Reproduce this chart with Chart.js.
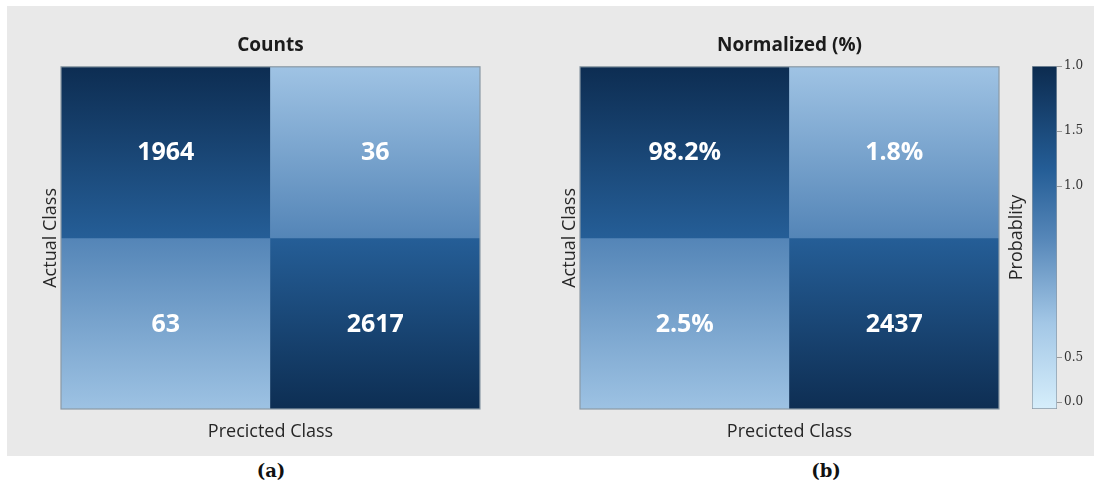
<!DOCTYPE html>
<html>
<head>
<meta charset="utf-8">
<script src="https://cdn.jsdelivr.net/npm/chart.js@4.4.0/dist/chart.umd.min.js"></script>
<style>
  body { margin: 0; background: #fff; width: 1094px; height: 489px; position: relative; overflow: hidden; }
  #panel { position: absolute; left: 7px; top: 6px; width: 1087px; height: 450px; background: #e9e9e9; }
  .box { position: absolute; top: 0; height: 456px; }
  .cap { position: absolute; top: 460px; font: bold 18px "DejaVu Serif"; color: #111; transform: translateX(-50%); }
</style>
</head>
<body>
<div id="panel"></div>
<div class="box" style="left:0;width:547px"><canvas id="counts" width="547" height="456"></canvas></div>
<div class="box" style="left:520px;width:500px"><canvas id="normalized" width="500" height="456"></canvas></div>
<div class="box" style="left:1000px;width:94px"><canvas id="colorbar" width="94" height="456"></canvas></div>
<div class="cap" style="left:271px">(a)</div>
<div class="cap" style="left:826px">(b)</div>

<script>
// class names along each axis
const predictedClasses = ['0', '1'];
const actualClasses = ['0', '1'];

// raw confusion counts, one row per actual class
const countValues = [[1964, 36], [63, 2617]];

// normalized panel: shares used for colour and the printed cell text
const normalizedShares = [[0.982, 0.018], [0.025, 0.975]];
const normalizedLabels = [['98.2%', '1.8%'], ['2.5%', '2437']];

// colour bar ticks
const colorbarTicks = [0.02, 0.15, 0.65, 0.81, 1.0];
const colorbarTickLabels = ['0.0', '0.5', '1.0', '1.5', '1.0'];

const countShares = countValues.map(row => {
    const sum = row.reduce((a, b) => a + b, 0);
    return row.map(v => v / sum);
});
const countLabels = countValues.map(row => row.map(String));

// light-to-dark blue ramp
const blueStops = [
    [0, [214, 238, 251]],
    [0.25, [163, 199, 230]],
    [0.5, [85, 134, 184]],
    [0.7, [36, 93, 150]],
    [1, [12, 43, 79]]
];

function blueAt(t) {
    t = Math.max(0, Math.min(1, t));
    for (let i = 1; i < blueStops.length; i++) {
        const [p1, c1] = blueStops[i];
        const [p0, c0] = blueStops[i - 1];
        if (t <= p1) {
            const f = (t - p0) / (p1 - p0);
            const c = c0.map((v, k) => Math.round(v + (c1[k] - v) * f));
            return `rgb(${c[0]},${c[1]},${c[2]})`;
        }
    }
    return 'rgb(12,43,79)';
}

// each cell shades toward the outer edge of the matrix
function cellFill(shares) {
    return (ctx) => {
        const chart = ctx.chart;
        if (!chart.chartArea || ctx.type !== 'data') return '#5586b8';
        const y = chart.scales.y;
        const r = ctx.datasetIndex;
        const t = shares[r][ctx.dataIndex];
        const top = y.getPixelForValue(r);
        const bottom = y.getPixelForValue(r + 1);
        const outerTop = r < shares.length / 2;
        const g = chart.ctx.createLinearGradient(0, outerTop ? top : bottom, 0, outerTop ? bottom : top);
        g.addColorStop(0, blueAt(0.25 + 0.75 * t));
        g.addColorStop(1, blueAt(0.5 + 0.2 * t));
        return g;
    };
}

// white numbers in the cells and a thin frame around the matrix
const cellText = {
    id: 'cellText',
    afterDatasetsDraw(chart, args, opts) {
        const ctx = chart.ctx;
        const area = chart.chartArea;
        ctx.save();
        ctx.font = 'bold 25px "Open Sans"';
        ctx.fillStyle = '#ffffff';
        ctx.textAlign = 'center';
        ctx.textBaseline = 'middle';
        chart.data.datasets.forEach((ds, r) => {
            chart.getDatasetMeta(r).data.forEach((bar, c) => {
                ctx.fillText(opts.labels[r][c], bar.x, (bar.y + bar.base) / 2 + 1);
            });
        });
        ctx.strokeStyle = '#8b99a5';
        ctx.lineWidth = 1.2;
        ctx.strokeRect(area.left, area.top, area.right - area.left, area.bottom - area.top);
        ctx.restore();
    }
};

const axisFont = { family: 'Open Sans', size: 18, lineHeight: 1 };

function matrixChart(id, title, shares, labels, padLeft, padRight) {
    return new Chart(document.getElementById(id), {
        type: 'bar',
        data: {
            labels: predictedClasses,
            datasets: actualClasses.map((cls, r) => ({
                label: cls,
                data: predictedClasses.map(() => [r, r + 1]),
                backgroundColor: cellFill(shares),
                borderWidth: 0,
                categoryPercentage: 1,
                barPercentage: 1,
                grouped: false
            }))
        },
        options: {
            responsive: false,
            animation: false,
            layout: { padding: { top: 34, left: padLeft, right: padRight, bottom: 10 } },
            plugins: {
                legend: { display: false },
                tooltip: { enabled: false },
                title: {
                    display: true,
                    text: title,
                    fullSize: false,
                    color: '#1b1b1b',
                    font: { family: 'Open Sans', size: 19, weight: 'bold', lineHeight: 1.2 },
                    padding: { top: 0, bottom: 10 }
                },
                cellText: { labels: labels }
            },
            scales: {
                x: {
                    grid: { display: false, drawTicks: false },
                    border: { display: false },
                    ticks: { display: false },
                    title: { display: true, text: 'Precicted Class', color: '#262626', font: axisFont, padding: { top: 14, bottom: 5 } }
                },
                y: {
                    min: 0,
                    max: actualClasses.length,
                    reverse: true,
                    grid: { display: false, drawTicks: false },
                    border: { display: false },
                    ticks: { display: false },
                    title: { display: true, text: 'Actual Class', color: '#262626', font: axisFont, padding: { top: 16, bottom: 1 } }
                }
            }
        },
        plugins: [cellText]
    });
}

matrixChart('counts', 'Counts', countShares, countLabels, 26, 67);
matrixChart('normalized', 'Normalized (%)', normalizedShares, normalizedLabels, 25, 21);

// colour bar on the right
new Chart(document.getElementById('colorbar'), {
    type: 'bar',
    data: {
        labels: ['Probablity'],
        datasets: [{
            data: [[0, 1]],
            backgroundColor: (ctx) => {
                const chart = ctx.chart;
                if (!chart.chartArea) return '#5586b8';
                const y = chart.scales.y;
                const g = chart.ctx.createLinearGradient(0, y.getPixelForValue(0), 0, y.getPixelForValue(1));
                blueStops.forEach(([p]) => g.addColorStop(p, blueAt(p)));
                return g;
            },
            borderColor: '#8b99a5',
            borderWidth: 1,
            borderSkipped: false,
            categoryPercentage: 1,
            barPercentage: 1
        }]
    },
    options: {
        responsive: false,
        animation: false,
        layout: { padding: { top: 66, left: 0, right: 5, bottom: 47 } },
        plugins: { legend: { display: false }, tooltip: { enabled: false } },
        scales: {
            x: { display: false },
            y: {
                position: 'right',
                min: 0,
                max: 1,
                afterBuildTicks: (scale) => {
                    scale.ticks = colorbarTicks.map(v => ({ value: v }));
                },
                afterFit: (scale) => {
                    scale.width = 32;
                },
                ticks: {
                    autoSkip: false,
                    padding: 2,
                    color: '#333',
                    font: { family: 'DejaVu Serif', size: 12 },
                    callback: (value, index) => colorbarTickLabels[index]
                },
                grid: { drawOnChartArea: false, drawTicks: true, tickLength: 5, color: '#999' },
                border: { display: false }
            },
            yTitle: {
                type: 'linear',
                position: 'left',
                grid: { display: false, drawTicks: false },
                border: { display: false },
                ticks: { display: false },
                title: { display: true, text: 'Probablity', color: '#262626', font: axisFont, padding: { top: 8, bottom: 6 } }
            }
        }
    }
});
</script>
</body>
</html>
